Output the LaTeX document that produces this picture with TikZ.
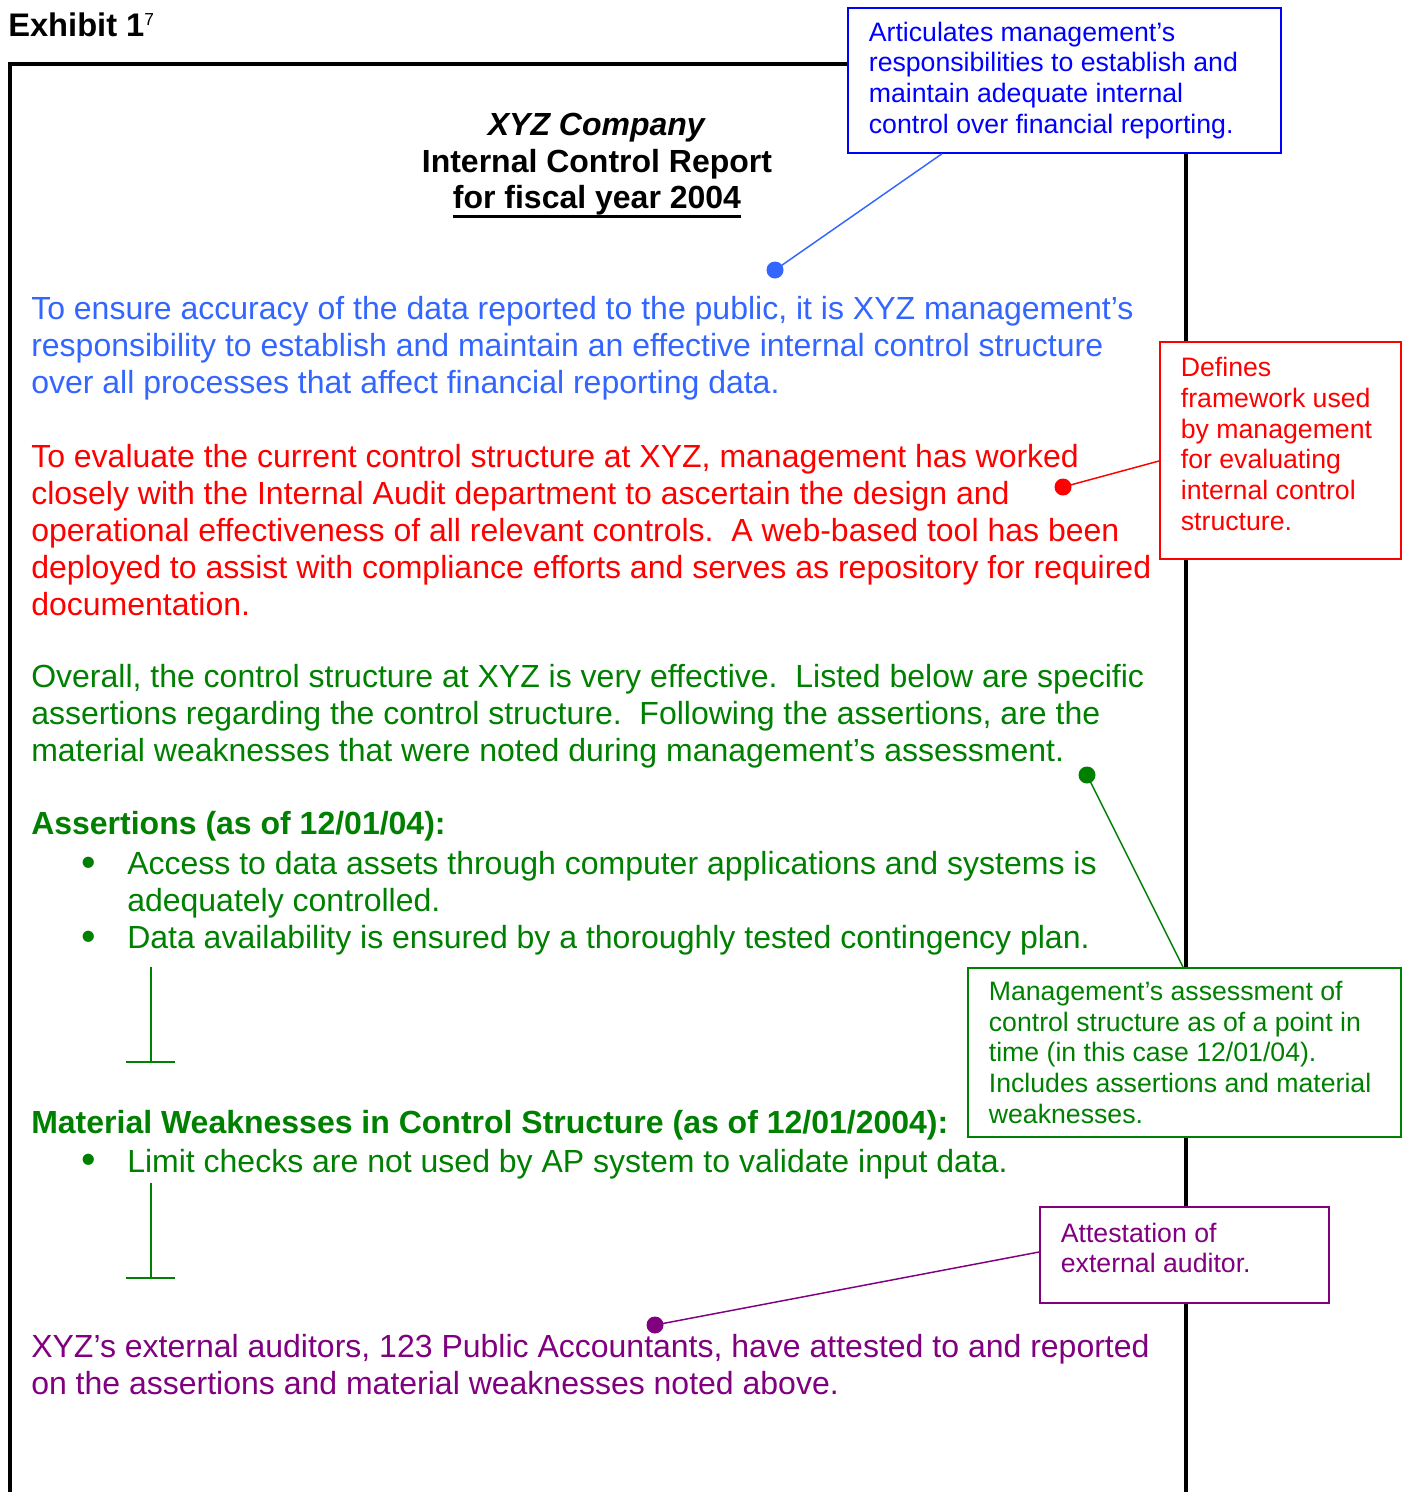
\documentclass[tikz,border=0pt]{standalone}
\usepackage{fontspec}
\setmainfont{Liberation Sans}
\usetikzlibrary{calc}
\newdimen\pxu \pxu=0.75pt
\definecolor{bodyblue}{RGB}{51,102,255}
\definecolor{cblue}{RGB}{0,0,255}
\definecolor{cred}{RGB}{255,0,0}
\definecolor{cgreen}{RGB}{0,128,0}
\definecolor{cpurple}{RGB}{128,0,128}
\newsavebox\ulbox
\newcommand\ulinetext[1]{\sbox\ulbox{#1}\rlap{\rule[-9\pxu]{\wd\ulbox}{2.5\pxu}}\usebox\ulbox}
\newcommand\bul{\makebox[46\pxu][l]{\raisebox{-1.5\pxu}{\fontsize{31}{31}\selectfont •}}}
\frenchspacing
\tikzset{
  frame/.style={line width=3pt, black},
  bodytext/.style={anchor=west, inner sep=0pt, align=left, font=\fontsize{24}{27.75}\selectfont},
  headtext/.style={anchor=west, inner sep=0pt, align=left, font=\bfseries\fontsize{24}{27.75}\selectfont},
  callout/.style={draw, fill=white, line width=1.3pt, anchor=north west, inner sep=0pt,
     font=\fontsize{20}{23}\selectfont},
  conn/.style={line width=1.1pt},
  dot/.style={circle, inner sep=0pt, minimum size=17\pxu},
  tline/.style={line width=1.5pt, cgreen},
}
\begin{document}
\begin{tikzpicture}[x=0.75pt, y=-0.75pt]
\useasboundingbox[fill=white] (0,0) rectangle (1411,1492);
% frame
\draw[frame] (10,1492) -- (10,64) -- (1186,64) -- (1186,1492);
% heading
\node[anchor=base west, inner sep=0pt, font=\bfseries\fontsize{24.5}{28}\selectfont] (exhibit) at (8,36)
  {Exhibit 1\raisebox{10.5\pxu}{\fontsize{13}{15}\selectfont\mdseries 7}};
\node[align=center, inner sep=0pt, font=\bfseries\fontsize{24}{27.5}\selectfont] (title) at (597,165.5)
  {\textit{XYZ Company}\\Internal Control Report\\\ulinetext{for fiscal year 2004}};
% body
\node[bodytext, text=bodyblue] (bluepara) at (31,348)
  {To ensure accuracy of the data reported to the public, it is XYZ management’s\\
   responsibility to establish and maintain an effective internal control structure\\
   over all processes that affect financial reporting data.};
\node[bodytext, text=cred] (redpara) at (31,530.5)
  {To evaluate the current control structure at XYZ, management has worked\\
   closely with the Internal Audit department to ascertain the design and\\
   operational effectiveness of all relevant controls.\ \ A web-based tool has been\\
   deployed to assist with compliance efforts and serves as repository for required\\
   documentation.};
\node[bodytext, text=cgreen] (greenpara) at (31,716)
  {Overall, the control structure at XYZ is very effective.\ \ Listed below are specific\\
   assertions regarding the control structure.\ \ Following the assertions, are the\\
   material weaknesses that were noted during management’s assessment.};
\node[headtext, text=cgreen] (asshead) at (31,826) {Assertions (as of 12/01/04):};
\node[bodytext, text=cgreen] (asslist) at (81,903.5)
  {\bul Access to data assets through computer applications and systems is\\
   \hspace*{46\pxu}adequately controlled.\\
   \bul Data availability is ensured by a thoroughly tested contingency plan.};
\draw[tline] (151,967) -- (151,1062) (126,1062) -- (175,1062);
\node[headtext, text=cgreen] (mwhead) at (31,1125) {Material Weaknesses in Control Structure (as of 12/01/2004):};
\node[bodytext, text=cgreen] (mwlist) at (81,1164)
  {\bul Limit checks are not used by AP system to validate input data.};
\draw[tline] (151,1183) -- (151,1278) (126,1278) -- (175,1278);
\node[bodytext, text=cpurple] (purplepara) at (31,1364.5)
  {XYZ’s external auditors, 123 Public Accountants, have attested to and reported\\
   on the assertions and material weaknesses noted above.};
% callouts
\node[callout, draw=cblue, text=cblue, minimum width=433\pxu, minimum height=145\pxu] (bluebox) at (847,7)
  {\parbox{391\pxu}{\raggedright Articulates management’s\\responsibilities to establish and\\maintain adequate internal\\control over financial reporting.}};
\node[callout, draw=cred, text=cred, minimum width=241\pxu, minimum height=217\pxu] (redbox) at (1159,341)
  {\parbox{199\pxu}{\raggedright Defines\\framework used\\by management\\for evaluating\\internal control\\structure.\par\vspace{13\pxu}}};
\node[callout, draw=cgreen, text=cgreen, minimum width=433\pxu, minimum height=169\pxu] (greenbox) at (967,967)
  {\parbox{391\pxu}{\raggedright Management’s assessment of\\control structure as of a point in\\time (in this case 12/01/04).\\Includes assertions and material\\weaknesses.}};
\node[callout, draw=cpurple, text=cpurple, minimum width=289\pxu, minimum height=96\pxu] (purplebox) at (1039,1206)
  {\parbox{247\pxu}{\raggedright Attestation of\\external auditor.\par\vspace{14\pxu}}};
% dots
\node[dot, fill=bodyblue] (bluedot) at (775,270) {};
\node[dot, fill=cred] (reddot) at (1063,487) {};
\node[dot, fill=cgreen] (greendot) at (1087,775) {};
\node[dot, fill=cpurple] (purpledot) at (655,1325) {};
% connectors
\draw[conn, bodyblue] (bluedot.center) -- ($(bluebox.south west)+(95,0)$);
\draw[conn, cred] (reddot.center) -- ($(redbox.north west)+(0,120)$);
\draw[conn, cgreen] (greendot.center) -- ($(greenbox.north west)+(216,0)$);
\draw[conn, cpurple] (purpledot.center) -- ($(purplebox.north west)+(0,46)$);
\end{tikzpicture}
\end{document}
